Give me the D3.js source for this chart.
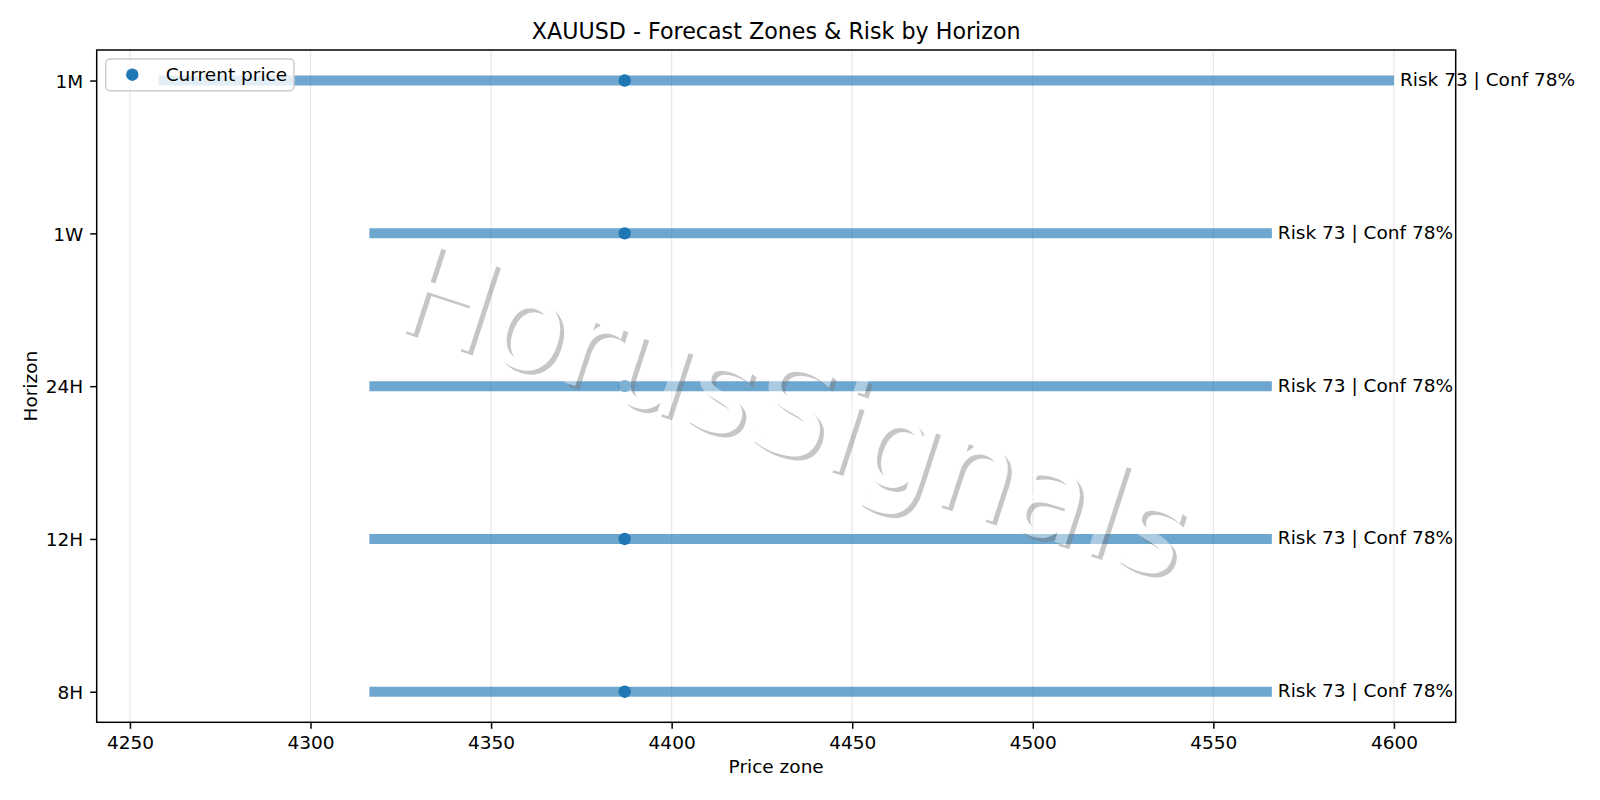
<!DOCTYPE html>
<html>
<head>
<meta charset="utf-8">
<script src="https://cdn.jsdelivr.net/npm/d3@7"></script>
<style>
  html, body { margin: 0; padding: 0; background: #fff; }
  svg { display: block; font-family: "DejaVu Sans", sans-serif; }
</style>
</head>
<body>
<svg id="chart" width="1600" height="800"></svg>
<script>
// ---- data ----
const horizons = ["8H", "12H", "24H", "1W", "1M"];
const zoneLow = [4316.3, 4316.3, 4316.3, 4316.3, 4257.9];
const zoneHigh = [4566.2, 4566.2, 4566.2, 4566.2, 4600.0];
const currentPrice = [4387.0, 4387.0, 4387.0, 4387.0, 4387.0];
const riskScore = [73, 73, 73, 73, 73];
const confidence = [78, 78, 78, 78, 78];
const xTickValues = [4250, 4300, 4350, 4400, 4450, 4500, 4550, 4600];

const titleText = "XAUUSD - Forecast Zones & Risk by Horizon";
const xLabel = "Price zone";
const yLabel = "Horizon";
const legendLabel = "Current price";
const watermark = "HorusSignals";

// ---- layout ----
const svg = d3.select("#chart");
const L = 96.7, R = 1455.7, T = 50, B = 722.3;
const blue = "#1f77b4";
const fs = 18.5;

const dataMin = d3.min(zoneLow), dataMax = d3.max(zoneHigh);
const pad = (dataMax - dataMin) * 0.05;
const x = d3.scaleLinear().domain([dataMin - pad, dataMax + pad]).range([L, R]);
const y = d3.scaleLinear().domain([-0.2, horizons.length - 1 + 0.2]).range([B, T]);

const rows = horizons.map((h, i) => ({
  h, i, lo: zoneLow[i], hi: zoneHigh[i], cur: currentPrice[i], risk: riskScore[i], conf: confidence[i]
}));

// grid
svg.append("g").selectAll("line").data(xTickValues).join("line")
  .attr("x1", d => x(d)).attr("x2", d => x(d))
  .attr("y1", T).attr("y2", B)
  .attr("stroke", "#b0b0b0").attr("stroke-opacity", 0.3).attr("stroke-width", 1.2);

// zone bars
svg.append("g").selectAll("line").data(rows).join("line")
  .attr("x1", d => x(d.lo)).attr("x2", d => x(d.hi))
  .attr("y1", d => y(d.i)).attr("y2", d => y(d.i))
  .attr("stroke", blue).attr("stroke-opacity", 0.65).attr("stroke-width", 10);

// current price dots
svg.append("g").selectAll("circle").data(rows).join("circle")
  .attr("cx", d => x(d.cur)).attr("cy", d => y(d.i)).attr("r", 6.2)
  .attr("fill", blue);

// annotations
svg.append("g").selectAll("text").data(rows).join("text")
  .attr("x", d => x(d.hi) + 6).attr("y", d => y(d.i) + 5.5)
  .attr("font-size", fs).attr("fill", "#000")
  .text(d => `Risk ${d.risk} | Conf ${d.conf}%`);

// axes
const xAxis = d3.axisBottom(x).tickValues(xTickValues).tickSize(6.5).tickPadding(6).tickFormat(d3.format("d"));
const gx = svg.append("g").attr("transform", `translate(0,${B})`).call(xAxis);
gx.select(".domain").remove();
gx.selectAll(".tick line").attr("stroke", "#000").attr("stroke-width", 1.5);
gx.selectAll(".tick text").attr("font-size", fs).attr("font-family", "DejaVu Sans").attr("fill", "#000")
  .attr("dy", null).attr("y", 0).attr("transform", "translate(0,26.7)");

const yAxis = d3.axisLeft(y).tickValues(d3.range(horizons.length)).tickFormat(i => horizons[i]).tickSize(6.5).tickPadding(7);
const gy = svg.append("g").attr("transform", `translate(${L},0)`).call(yAxis);
gy.select(".domain").remove();
gy.selectAll(".tick line").attr("stroke", "#000").attr("stroke-width", 1.5);
gy.selectAll(".tick text").attr("font-size", fs).attr("font-family", "DejaVu Sans").attr("fill", "#000")
  .attr("dy", "0.36em");

// spines
svg.append("rect").attr("x", L).attr("y", T).attr("width", R - L).attr("height", B - T)
  .attr("fill", "none").attr("stroke", "#000").attr("stroke-width", 1.5);

// watermark (drawn over plot): gray shadow offset in screen space, white text on top
const wmX = 781, wmY = 453, wmRot = 18, wmSize = 126;
const wm = svg.append("g").attr("opacity", 0.42);
wm.append("text")
  .attr("transform", `translate(${wmX + 4},${wmY + 4}) rotate(${wmRot})`)
  .attr("text-anchor", "middle").attr("font-size", wmSize).attr("fill", "#7a7a7a")
  .text(watermark);
wm.append("text")
  .attr("transform", `translate(${wmX},${wmY}) rotate(${wmRot})`)
  .attr("text-anchor", "middle").attr("font-size", wmSize).attr("fill", "#fff")
  .text(watermark);

// title and labels
svg.append("text").attr("x", (L + R) / 2).attr("y", 39).attr("text-anchor", "middle")
  .attr("font-size", 22.2).attr("fill", "#000").text(titleText);
svg.append("text").attr("x", (L + R) / 2).attr("y", 772.5).attr("text-anchor", "middle")
  .attr("font-size", fs).attr("fill", "#000").text(xLabel);
svg.append("text").attr("transform", `translate(36.5,${(T + B) / 2}) rotate(-90)`).attr("text-anchor", "middle")
  .attr("font-size", fs).attr("fill", "#000").text(yLabel);

// legend
const lg = svg.append("g");
lg.append("rect").attr("x", 105.7).attr("y", 59).attr("width", 188.3).attr("height", 31.7)
  .attr("rx", 4).attr("fill", "#fff").attr("fill-opacity", 0.8)
  .attr("stroke", "#cccccc").attr("stroke-width", 1.5);
lg.append("circle").attr("cx", 132.3).attr("cy", 74.7).attr("r", 6.2).attr("fill", blue);
lg.append("text").attr("x", 165.7).attr("y", 74.7 + 6.7).attr("font-size", fs).attr("fill", "#000").text(legendLabel);
</script>
</body>
</html>
